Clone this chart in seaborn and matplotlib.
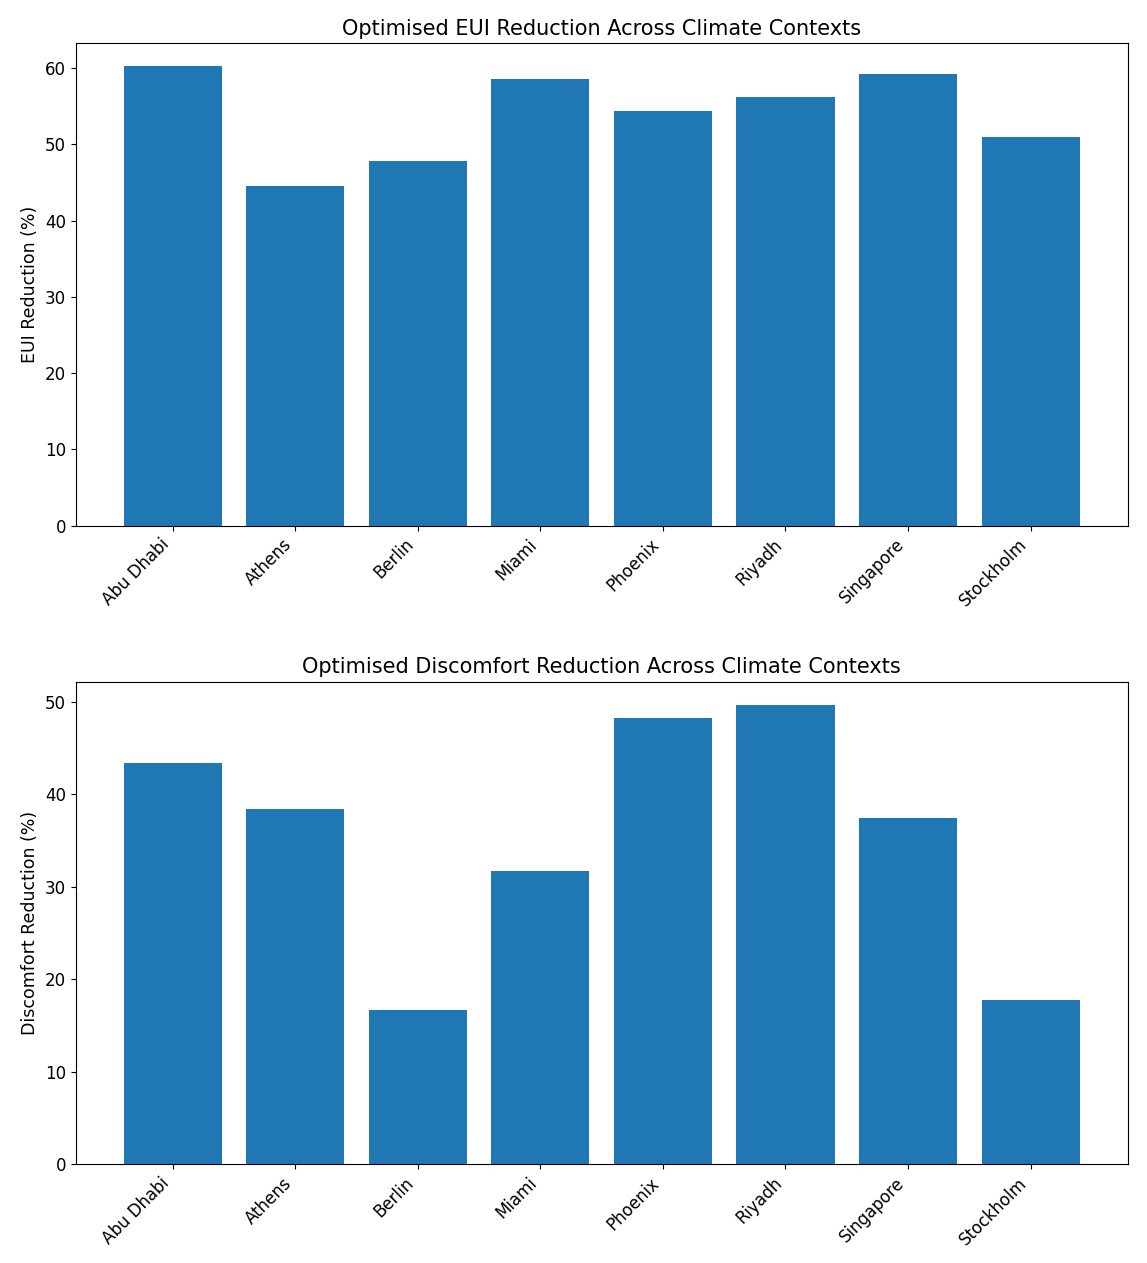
import matplotlib
matplotlib.use("Agg")
import matplotlib.pyplot as plt
import seaborn as sns
import pandas as pd

cities = ["Abu Dhabi", "Athens", "Berlin", "Miami", "Phoenix", "Riyadh", "Singapore", "Stockholm"]
eui_reduction = [60.3, 44.6, 47.8, 58.6, 54.4, 56.2, 59.2, 51.0]
discomfort_reduction = [43.4, 38.4, 16.7, 31.7, 48.3, 49.7, 37.5, 17.8]

df = pd.DataFrame({"City": cities, "EUI": eui_reduction, "Discomfort": discomfort_reduction})

fig, axes = plt.subplots(2, 1, figsize=(11.47, 12.63), dpi=100)

# EUI reduction
sns.barplot(data=df, x="City", y="EUI", color="#1f77b4", saturation=1, width=0.8, ax=axes[0])
axes[0].set_title("Optimised EUI Reduction Across Climate Contexts", fontsize=15)
axes[0].set_xlabel("")
axes[0].set_ylabel("EUI Reduction (%)", fontsize=12.5)

# Discomfort reduction
sns.barplot(data=df, x="City", y="Discomfort", color="#1f77b4", saturation=1, width=0.8, ax=axes[1])
axes[1].set_title("Optimised Discomfort Reduction Across Climate Contexts", fontsize=15)
axes[1].set_xlabel("")
axes[1].set_ylabel("Discomfort Reduction (%)", fontsize=12.5)

for ax in axes:
    ax.set_xlim(-0.79, 7.79)
    ax.tick_params(axis="both", labelsize=12)
    plt.setp(ax.get_xticklabels(), rotation=45, ha="right", rotation_mode="default")

fig.subplots_adjust(left=0.066, right=0.983, top=0.966, bottom=0.078, hspace=0.323)
plt.savefig("out.png", dpi=100)
